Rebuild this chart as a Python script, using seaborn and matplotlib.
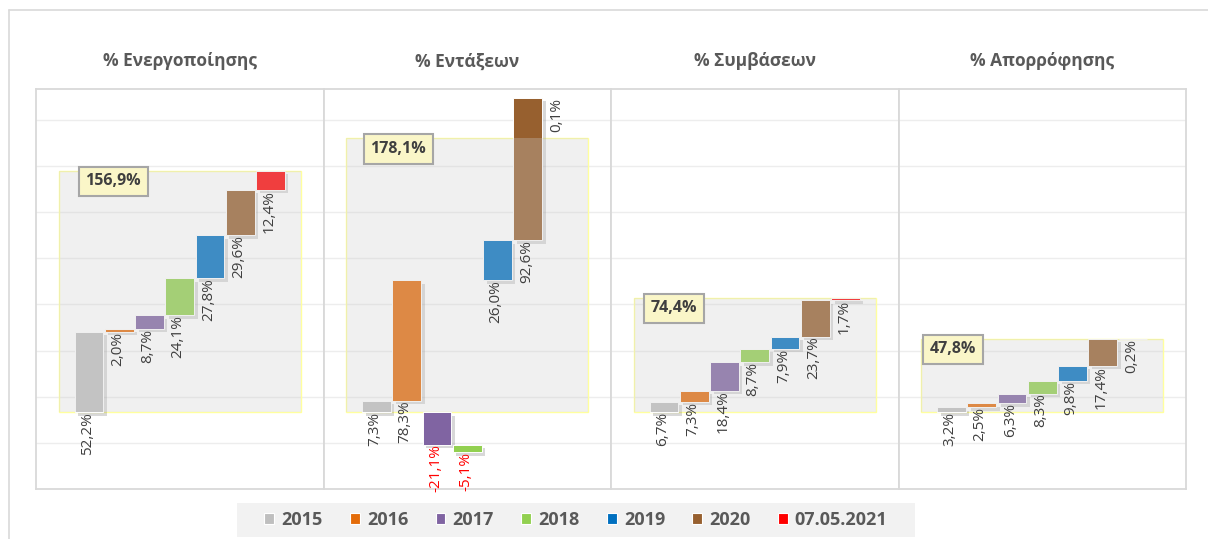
import numpy as np
import pandas as pd
import seaborn as sns
import matplotlib.pyplot as plt
from matplotlib.patches import Rectangle, Patch
from matplotlib.lines import Line2D
from matplotlib import patheffects as pe

# data
panels = ["% Ενεργοποίησης", "% Εντάξεων", "% Συμβάσεων", "% Απορρόφησης"]
years = ["2015", "2016", "2017", "2018", "2019", "2020", "07.05.2021"]
colors = ["#BFBFBF", "#E46C0A", "#8064A2", "#92D050", "#0070C0", "#97602F", "#FF0000"]

energ = [52.2, 2.0, 8.7, 24.1, 27.8, 29.6, 12.4]
entax = [7.3, 78.3, -21.1, -5.1, 26.0, 92.6, 0.1]
symv = [6.7, 7.3, 18.4, 8.7, 7.9, 23.7, 1.7]
aporr = [3.2, 2.5, 6.3, 8.3, 9.8, 17.4, 0.2]
totals = [156.9, 178.1, 74.4, 47.8]

series = [energ, entax, symv, aporr]
total_x = [0.80, 0.72, 0.33, 0.06]  # where the total box sits in each panel

sns.set_theme(style="white")
plt.rcParams["font.family"] = ["Open Sans", "DejaVu Sans"]

W, H = 1208, 539
fig = plt.figure(figsize=(W / 100, H / 100), dpi=100)

frame_col = "#D9D9D9"
x0, x1, ytop, ybot = 36, 1186, 89, 489
pw = (x1 - x0) / 4


def fmt(v):
    return f"{v:.1f}%".replace(".", ",")


for i, (title, vals, tot) in enumerate(zip(panels, series, totals)):
    ax = fig.add_axes([(x0 + i * pw) / W, (H - ybot) / H, pw / W, (ybot - ytop) / H])
    df = pd.DataFrame({"year": years, "value": vals})
    sns.barplot(df, x="year", y="value", hue="year", order=years, hue_order=years,
                palette=colors, saturation=1, width=0.95, edgecolor="white",
                linewidth=0.7, legend=False, ax=ax, zorder=3)

    # waterfall: positives stack up, negatives stack down from zero
    pos, neg = 0.0, 0.0
    for cont, v in zip(ax.containers, vals):
        bar = cont[0]
        if v >= 0:
            base = pos
            pos += v
        else:
            base = neg
            neg += v
        bar.set_y(base)
        bar.set_path_effects([pe.SimplePatchShadow(offset=(2.5, -2.5), shadow_rgbFace="0.4", alpha=0.25),
                              pe.Normal()])
        cx = bar.get_x() + bar.get_width() / 2
        low = min(base, base + v)
        ax.text(cx - 0.05, low, fmt(v), rotation=90, ha="center", va="top", fontsize=11,
                color="#FF0000" if v < 0 else "#3F3F3F", zorder=5)

    # translucent total box
    ax.add_patch(Rectangle((-1, 0), 8, tot, fc=(0.81, 0.81, 0.81), alpha=0.3, lw=0, zorder=4))
    ax.add_patch(Rectangle((-1, 0), 8, tot, fill=False, ec="#FFFF9E", lw=1, zorder=1.5))
    ax.text(total_x[i], tot - 7, fmt(tot), ha="center", va="center", fontsize=11.5,
            fontweight="bold", color="#3F3F3F", zorder=6,
            bbox=dict(boxstyle="square,pad=0.42", fc="#FAF6C8", ec="#A6A6A6", lw=1.5))

    ax.set_xlim(-1.75, 7.75)
    ax.set_ylim(-50, 210)
    ax.set_yticks(np.arange(-20, 200, 30))
    ax.yaxis.grid(True, color="#EDEDED", lw=1)
    ax.set_axisbelow(True)
    ax.set_xticks([])
    ax.set_yticklabels([])
    ax.tick_params(length=0)
    ax.set_xlabel("")
    ax.set_ylabel("")
    for s in ax.spines.values():
        s.set_color(frame_col)
        s.set_linewidth(1.3)

    fig.text((x0 + (i + 0.5) * pw) / W, 1 - 66.5 / H, title, ha="center", va="baseline",
             fontsize=12.5, fontweight="bold", color="#595959")

# outer chart frame (top and left edges visible)
fig.add_artist(Line2D([9 / W, 1], [1 - 10 / H, 1 - 10 / H], color=frame_col, lw=1.2))
fig.add_artist(Line2D([9 / W, 9 / W], [0, 1 - 10 / H], color=frame_col, lw=1.2))

# legend
fig.add_artist(Rectangle((237 / W, 1 - 537 / H), 678 / W, 34 / H, transform=fig.transFigure,
                         fc="#F2F2F2", ec="none"))
handles = [Patch(fc=c, ec="white", lw=0.8) for c in colors]
fig.legend(handles, years, loc="center", bbox_to_anchor=(576 / W, 1 - 520 / H), ncol=7,
           frameon=False, prop={"size": 13, "weight": "bold"}, labelcolor="#595959",
           handlelength=0.55, handleheight=0.55, handletextpad=0.4, columnspacing=1.5)

fig.savefig("out.png", dpi=100)
